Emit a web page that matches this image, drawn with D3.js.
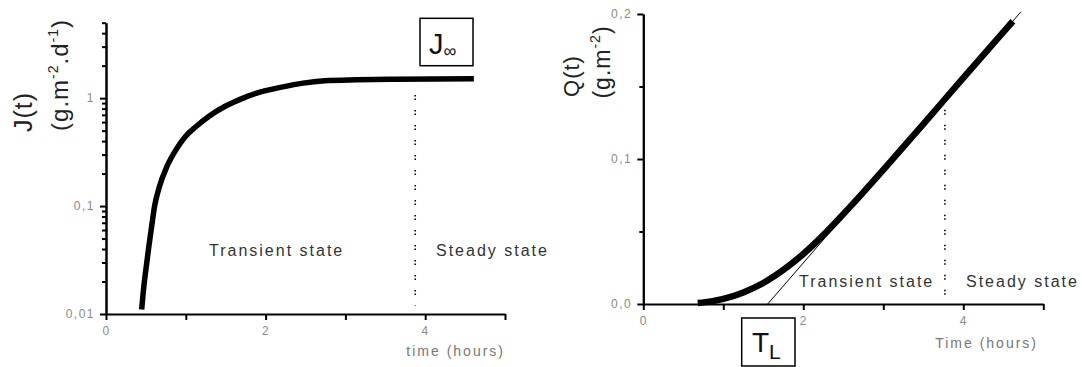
<!DOCTYPE html>
<html>
<head>
<meta charset="utf-8">
<script src="https://cdn.jsdelivr.net/npm/d3@7"></script>
<style>
body{margin:0;background:#fff}
svg{display:block;font-family:'Liberation Sans',Arial,sans-serif}
</style>
</head>
<body>
<div id="chart"></div>
<script>
// J(t) flux (log axis)
var fluxTime = [0.447, 0.474, 0.505, 0.537, 0.572, 0.608, 0.670, 0.764, 0.876, 0.996, 1.130, 1.287, 1.488, 1.666, 1.889, 2.202, 2.47, 2.74, 3.14, 3.6, 4.1, 4.61]
var fluxValue = [0.011, 0.018, 0.0276, 0.0423, 0.0647, 0.0991, 0.152, 0.233, 0.332, 0.441, 0.546, 0.676, 0.836, 0.964, 1.112, 1.264, 1.377, 1.446, 1.477, 1.495, 1.505, 1.51]
// Q(t) cumulated mass, right panel
var cumTime = [0.68, 0.85, 1.0, 1.25, 1.5, 1.75, 2.0, 2.25, 2.5, 2.75, 3.0, 3.5, 4.0, 4.5, 4.62]
var cumValue = [0.0007, 0.0018, 0.0035, 0.008, 0.0145, 0.0235, 0.0345, 0.0475, 0.062, 0.077, 0.0925, 0.124, 0.156, 0.1875, 0.195]
// steady state asymptote, crosses the time axis at the lag time
var lagTime = 1.555
var asymTime = [lagTime, 4.72]
var asymValue = [0, 0.2015]
// transient / steady limit
var fluxSteadyTime = 3.875
var fluxSteadyRange = [0.012, 1.07]
var cumSteadyTime = 3.77
var cumSteadyRange = [0.005, 0.134]

var timeTicks = [0, 1, 2, 3, 4, 5]
var timeTickLabels = ['0', '', '2', '', '4', '']
var fluxTicks = [0.01, 0.1, 1]
var fluxTickLabels = ['0,01', '0,1', '1']
var fluxMinor = [0.02, 0.03, 0.04, 0.05, 0.06, 0.07, 0.08, 0.09, 0.2, 0.3, 0.4, 0.5, 0.6, 0.7, 0.8, 0.9, 2, 3, 4, 5]
var cumTicks = [0, 0.1, 0.2]
var cumTickLabels = ['0,0', '0,1', '0,2']
var cumMinor = [0.05, 0.15]

var svg = d3.select('#chart')
            .append('svg')
            .attr('width', 1082)
            .attr('height', 367)

var xL = d3.scaleLinear().domain([0, 5]).range([106, 505])
var yL = d3.scaleLog().domain([0.01, 5]).range([314, 22.7])
var xR = d3.scaleLinear().domain([0, 5]).range([643.3, 1043.3])
var yR = d3.scaleLinear().domain([0, 0.2]).range([304, 14])

function styleAxis(g){
    g.select('.domain').attr('stroke', '#000').attr('stroke-width', 2)
    g.selectAll('.tick line').attr('stroke', '#000').attr('stroke-width', 2)
    g.selectAll('.tick text')
        .attr('fill', '#8a8a8a')
        .style('font-size', '12px')
        .style('letter-spacing', '1.5px')
}

function drawPanel(x, y, yTicks, yLabels, yMinor, x0, y0){
    svg.append('g')
        .attr('transform', 'translate(0,' + y0 + ')')
        .call(d3.axisBottom(x).tickValues(timeTicks)
            .tickFormat(function(d, i){ return timeTickLabels[i] })
            .tickSize(6).tickSizeOuter(0).tickPadding(6))
        .call(styleAxis)
    svg.append('g')
        .attr('transform', 'translate(' + x0 + ',0)')
        .call(d3.axisLeft(y).tickValues(yMinor).tickFormat('')
            .tickSize(4).tickSizeOuter(0))
        .call(styleAxis)
    svg.append('g')
        .attr('transform', 'translate(' + x0 + ',0)')
        .call(d3.axisLeft(y).tickValues(yTicks)
            .tickFormat(function(d, i){ return yLabels[i] })
            .tickSize(6).tickSizeOuter(0).tickPadding(5))
        .call(styleAxis)
}

drawPanel(xL, yL, fluxTicks, fluxTickLabels, fluxMinor, 106, 314)
drawPanel(xR, yR, cumTicks, cumTickLabels, cumMinor, 643.3, 304)

// curves
var fluxLine = d3.line()
    .x(function(d, i){ return xL(fluxTime[i]) })
    .y(function(d){ return yL(d) })
    .curve(d3.curveMonotoneX)
svg.append('path')
    .attr('d', fluxLine(fluxValue))
    .attr('fill', 'none')
    .attr('stroke', '#000')
    .attr('stroke-width', 5.5)

var asymLine = d3.line()
    .x(function(d, i){ return xR(asymTime[i]) })
    .y(function(d){ return yR(d) })
svg.append('path')
    .attr('d', asymLine(asymValue))
    .attr('fill', 'none')
    .attr('stroke', '#000')
    .attr('stroke-width', 1)

var cumLine = d3.line()
    .x(function(d, i){ return xR(cumTime[i]) })
    .y(function(d){ return yR(d) })
    .curve(d3.curveMonotoneX)
svg.append('path')
    .attr('d', cumLine(cumValue))
    .attr('fill', 'none')
    .attr('stroke', '#000')
    .attr('stroke-width', 6.5)

// dotted limits
svg.append('line')
    .attr('x1', xL(fluxSteadyTime)).attr('x2', xL(fluxSteadyTime))
    .attr('y1', yL(fluxSteadyRange[1])).attr('y2', yL(fluxSteadyRange[0]))
    .attr('stroke', '#000').attr('stroke-width', 1.6)
    .attr('stroke-dasharray', '1.5,2,1.5,10')
svg.append('line')
    .attr('x1', xR(cumSteadyTime)).attr('x2', xR(cumSteadyTime))
    .attr('y1', yR(cumSteadyRange[1])).attr('y2', yR(cumSteadyRange[0]))
    .attr('stroke', '#000').attr('stroke-width', 1.6)
    .attr('stroke-dasharray', '1.5,2,1.5,10')

// state texts
function stateText(txt, x, y){
    svg.append('text')
        .attr('x', x).attr('y', y)
        .attr('fill', '#333')
        .style('font-size', '16px')
        .style('letter-spacing', '2px')
        .text(txt)
}
stateText('Transient state', 209, 256)
stateText('Steady state', 436, 256)
stateText('Transient state', 799, 287)
stateText('Steady state', 966, 287)

// axis titles
function timeTitle(txt, xEnd, y){
    svg.append('text')
        .attr('x', xEnd).attr('y', y)
        .attr('text-anchor', 'end')
        .attr('fill', '#777')
        .style('font-size', '14px')
        .style('letter-spacing', '2px')
        .text(txt)
}
timeTitle('time (hours)', 505, 356)
timeTitle('Time (hours)', 1038, 348)

function yTitle(cx, cy, size){
    return svg.append('text')
        .attr('transform', 'translate(' + cx + ',' + cy + ') rotate(-90)')
        .attr('y', size * 0.35)
        .attr('text-anchor', 'middle')
        .attr('fill', '#222')
        .style('font-size', size + 'px')
        .style('letter-spacing', '1px')
}
yTitle(23, 112, 25).text('J(t)')
yTitle(571, 76, 22).text('Q(t)')

var u1 = yTitle(60, 75, 24)
u1.append('tspan').text('(g.m')
u1.append('tspan').attr('dy', -10).style('font-size', '14px').text('-2')
u1.append('tspan').attr('dy', 10).text('.d')
u1.append('tspan').attr('dy', -10).style('font-size', '14px').text('-1')
u1.append('tspan').attr('dy', 10).text(')')

var u2 = yTitle(602, 62, 23)
u2.append('tspan').text('(g.m')
u2.append('tspan').attr('dy', -10).style('font-size', '14px').text('-2')
u2.append('tspan').attr('dy', 10).text(')')

// boxed annotations
svg.append('rect')
    .attr('x', 420).attr('y', 18.3).attr('width', 53).attr('height', 47.4)
    .attr('fill', '#fff').attr('stroke', '#000').attr('stroke-width', 1.5)
var jinf = svg.append('text').attr('x', 429).attr('y', 54).attr('fill', '#111')
jinf.append('tspan').style('font-size', '29px').text('J')
jinf.append('tspan').attr('dy', 3).style('font-size', '18px').text('∞')

svg.append('rect')
    .attr('x', 741.7).attr('y', 318).attr('width', 53.3).attr('height', 48)
    .attr('fill', '#fff').attr('stroke', '#000').attr('stroke-width', 1.5)
var tl = svg.append('text').attr('x', 752).attr('y', 352).attr('fill', '#111')
tl.append('tspan').style('font-size', '28px').text('T')
tl.append('tspan').attr('dy', 7).style('font-size', '21px').text('L')
</script>
</body>
</html>
